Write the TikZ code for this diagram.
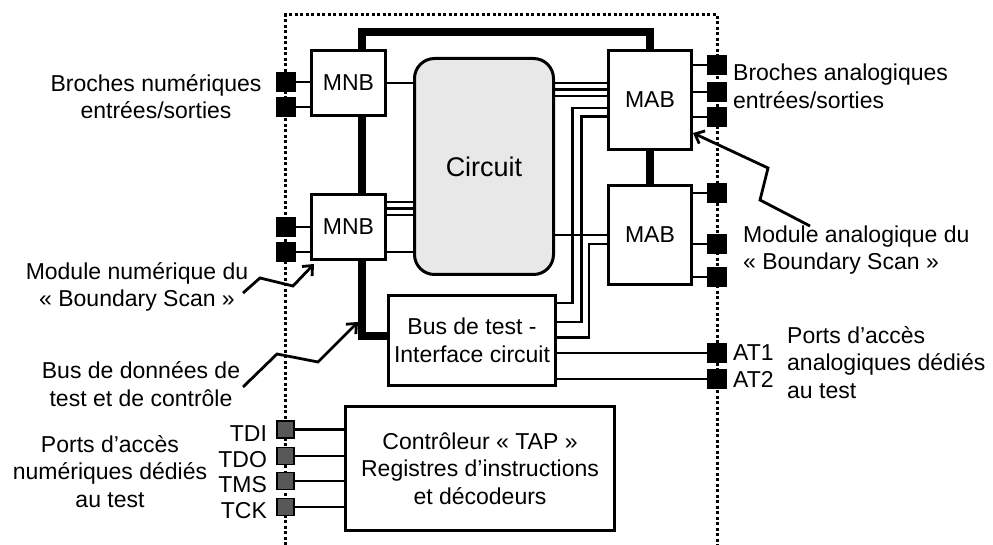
\documentclass[tikz,border=0pt]{standalone}
\usepackage{fontspec}
\setmainfont{Liberation Sans}
\usetikzlibrary{arrows.meta,positioning,calc}
\definecolor{cirGray}{HTML}{E8E8E8}
\definecolor{padGray}{HTML}{585858}

\begin{document}
\begin{tikzpicture}[x=1pt, y=-1pt, font=\fontsize{23}{27.5}\selectfont,
  blk/.style={draw, line width=3pt, align=center, inner sep=0pt},
  mod/.style={blk, minimum width=74pt, minimum height=65pt},
  amod/.style={blk, minimum width=83pt, minimum height=99pt},
  core/.style={blk, rounded corners=20pt, fill=cirGray, minimum width=139pt, minimum height=216pt, font=\fontsize{27}{32}\selectfont},
  pin/.style={draw, fill=black, line width=1pt, minimum size=19pt, inner sep=0pt},
  tpin/.style={draw, fill=padGray, line width=1.8pt, minimum size=17pt, inner sep=0pt},
  wire/.style={line width=2.8pt},
  bus/.style={line width=8pt},
  note/.style={line width=2.8pt, -{Straight Barb[length=8pt,width=14pt]}},
  txt/.style={inner sep=0pt, align=center}]
\useasboundingbox (0,0) rectangle (993,545);
\draw[line width=3pt, dash pattern=on 3pt off 2.5pt] (285.5,545) -- (285.5,15) -- (717,15) -- (717,545);
\node[mod] (mnb1) at (348.5,83) {MNB};
\node[mod] (mnb2) at (348.5,227) {MNB};
\node[core] (cir) at (484,166.5) {Circuit};
\node[amod] (mab1) at (650,100) {MAB};
\node[amod] (mab2) at (650,235) {MAB};
\node[blk, minimum width=167pt, minimum height=90pt] (itf) at (472,340.5) {Bus de test -\\Interface circuit};
\node[blk, minimum width=269pt, minimum height=124pt] (tap) at (480,468.5) {Contrôleur « TAP »\\Registres d’instructions\\et décodeurs};
\foreach \n/\y in {pd1/82,pd2/107,pd3/227,pd4/252} \node[pin] (\n) at (285.5,\y) {};
\foreach \n/\y in {pa1/65,pa2/92,pa3/117,pa4/193,pa5/244,pa6/277,at1/353,at2/379} \node[pin] (\n) at (717,\y) {};
\foreach \n/\y in {tdi/429.5,tdo/456,tms/481,tck/507} \node[tpin] (\n) at (285.5,\y) {};
\foreach \p/\t in {tdi/TDI,tdo/TDO,tms/TMS,tck/TCK} \node[txt, left=9pt of \p, yshift=-4pt] (l\p) {\t};
\node[txt, right=6pt of at1] (lat1) {AT1};
\node[txt, right=6pt of at2] (lat2) {AT2};
\foreach \p/\m in {pd1/mnb1,pd2/mnb1,pd3/mnb2,pd4/mnb2} \draw[wire] (\p) -- (\p -| \m.west);
\foreach \p/\m in {pa1/mab1,pa2/mab1,pa3/mab1,pa4/mab2,pa5/mab2,pa6/mab2,at1/itf,at2/itf} \draw[wire] (\p) -- (\p -| \m.east);
\foreach \p in {tdi,tdo,tms,tck} \draw[wire] (\p) -- (\p -| tap.west);
\draw[bus] ([xshift=13.5pt]mnb1.north) -- ++(0,-17) -| (mab1.north);
\draw[bus] ([xshift=13.5pt]mnb1.south) -- ([xshift=13.5pt]mnb2.north);
\draw[bus] ([xshift=13.5pt]mnb2.south) |- ([yshift=4.5pt]itf.west);
\draw[bus] (mab1) -- (mab2);
\draw[wire] (mnb1) -- (mnb1 -| cir.west);
\foreach \d in {-25,-18.5,-12,25} \draw[wire] ($(mnb2.east)+(0,\d)$) -- ($(cir.west |- mnb2.east)+(0,\d)$);
\foreach \d in {-17,-10.5,-4} \draw[wire] ($(mab1.west)+(0,\d)$) -- ($(cir.east |- mab1.west)+(0,\d)$);
\draw[wire] (mab2) -- (mab2 -| cir.east);
\foreach \m/\a/\x/\b in {mab1/8/15.5/-37.5,mab1/16.5/24.5/-18.5,mab2/9/32/-3}
  \draw[wire] ($(\m.west)+(0,\a)$) -| ($(itf.east)+(\x,\b)$) -- ($(itf.east)+(0,\b)$);
\node[txt] (tnum) at (156,96.5) {Broches numériques\\entrées/sorties};
\node[txt, anchor=west, align=left] (tana) at (733,86.5) {Broches analogiques\\entrées/sorties};
\node[txt] (tmodn) at (137,287) {Module numérique du\\« Boundary Scan »};
\node[txt, anchor=west, align=left] (tmoda) at (743,250) {Module analogique du\\« Boundary Scan »};
\node[txt] (tbusd) at (141,384) {Bus de données de\\test et de contrôle};
\node[txt] (tpn) at (110,471.5) {Ports d’accès\\numériques dédiés\\au test};
\node[txt, anchor=west, align=left] (tpa) at (787,362.5) {Ports d’accès\\analogiques dédiés\\au test};
\coordinate (nmab) at (810,226);
\coordinate (nmnb) at (243,293);
\coordinate (nbus) at (243,387);
\draw[note] (nmab) -- (760,200) -- (768,168) -- ($(mab1.south east)+(0,-18)$);
\draw[note] (nmnb) -- (260,278) -- (293,286) -- ($(mnb2.south west)+(4,3)$);
\draw[note] (nbus) -- (277,354) -- (318,362) -- ($(itf.north west)+(-29,28)$);
\end{tikzpicture}
\end{document}
